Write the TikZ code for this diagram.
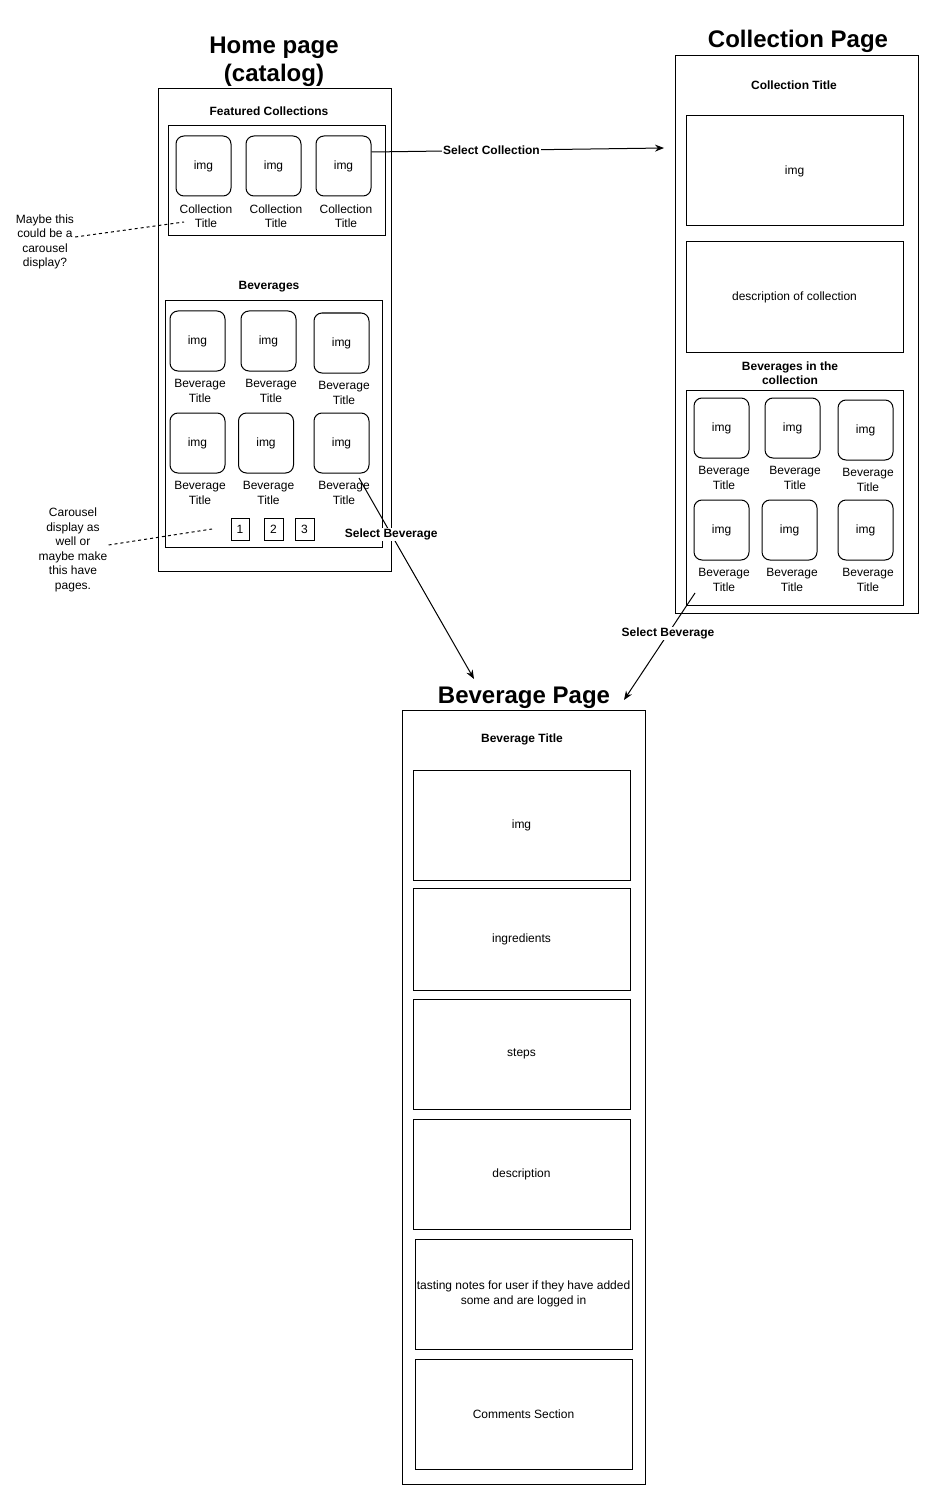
\documentclass[tikz,border=0pt]{standalone}
\usepackage{fontspec}
\setmainfont{Liberation Sans}
\usetikzlibrary{arrows.meta,positioning}

\begin{document}
\begin{tikzpicture}[x=1pt,y=-1pt,
  txt/.style={align=center, inner sep=1pt, font=\fontsize{12}{14.5}\selectfont},
  bold/.style={txt, font=\bfseries\fontsize{12}{14.5}\selectfont},
  heading/.style={align=center, inner sep=0pt, font=\bfseries\fontsize{24}{28}\selectfont},
  frame/.style={draw, line width=1pt, txt, inner sep=0pt},
  thumb/.style={frame, rounded corners=8pt, minimum width=55pt, minimum height=60pt},
  link/.style={line width=1pt, -{Stealth[length=9pt,width=7pt]}},
  note/.style={line width=1pt, dash pattern=on 3pt off 3pt}]
\useasboundingbox (0,0) rectangle (929,1495);

% home page
\node[heading] (hometitle) at (274,62) {Home page\\(catalog)};
\node[frame, minimum width=233pt, minimum height=482pt] (home) at (274.5,330) {};
\node[bold] (feattitle) at (269,111) {Featured Collections};
\node[frame, minimum width=217pt, minimum height=110pt] (feat) at (276.5,181) {};
\foreach \n/\x in {1/203.5,2/273.5,3/343.5}{
  \node[thumb] (c\n) at (\x,166) {img};
  \node[txt] (ct\n) at (\x+2.5,216) {Collection\\Title};
}
\node[bold] (bevstitle) at (269,287) {Beverages};
\node[frame, minimum width=217pt, minimum height=246pt] (bevs) at (273.5,424) {};
\foreach \n/\x/\y in {1/197.5/341,2/268.5/341,3/341.5/343,4/197.5/443,5/266/443,6/341.5/443}{
  \node[thumb] (b\n) at (\x,\y) {img};
  \node[txt] (bt\n) at (\x+2.5,\y+50) {Beverage\\Title};
}
\foreach \n/\x/\w in {1/240/18,2/273.5/19,3/304.5/19}
  \node[frame, minimum width=\w pt, minimum height=22pt] (p\n) at (\x,529) {\n};

% notes
\node[txt] (note1) at (45,242) {Maybe this\\could be a\\carousel\\display?};
\node[txt] (note2) at (73,550) {Carousel\\display as\\well or\\maybe make\\this have\\pages.};
\coordinate (n1tip) at (184,222);
\coordinate (n2tip) at (212,529);
\draw[note] ([yshift=5pt]note1.east) -- (n1tip);
\draw[note] ([yshift=5pt]note2.east) -- (n2tip);

% collection page
\node[heading] (coltitlebig) at (798,41) {Collection Page};
\node[frame, minimum width=243pt, minimum height=557pt] (colpage) at (796.5,334.5) {};
\node[bold] (coltitle) at (794,85) {Collection Title};
\node[frame, minimum width=217pt, minimum height=110pt] (colimg) at (794.5,171) {img};
\node[frame, minimum width=217pt, minimum height=110pt] (coldesc) at (794.5,297) {description of collection};
\node[bold] (colbevstitle) at (790,373) {Beverages in the\\collection};
\node[frame, minimum width=217pt, minimum height=215pt] (colbevs) at (794.5,497.5) {};
\foreach \n/\x/\y in {1/721.5/428,2/792.5/428,3/865.5/430,4/721.5/530,5/789.5/530,6/865.5/530}{
  \node[thumb] (cb\n) at (\x,\y) {img};
  \node[txt] (cbt\n) at (\x+2.5,\y+50) {Beverage\\Title};
}

% beverage page
\node[heading] (bevtitlebig) at (524,698) {Beverage Page};
\node[frame, minimum width=243pt, minimum height=774pt] (bevpage) at (523.5,1097) {};
\node[bold] (bevtitle) at (522,739) {Beverage Title};
\node[frame, minimum width=217pt, minimum height=110pt] (bimg) at (521.5,825) {img};
\node[frame, minimum width=217pt, minimum height=102pt] (bingr) at (521.5,939) {ingredients};
\node[frame, minimum width=217pt, minimum height=110pt] (bsteps) at (521.5,1054) {steps};
\node[frame, minimum width=217pt, minimum height=110pt] (bdesc) at (521.5,1174) {description};
\node[frame, minimum width=217pt, minimum height=110pt] (bnotes) at (523.5,1294) {tasting notes for user if they have added\\some and are logged in};
\node[frame, minimum width=217pt, minimum height=110pt] (bcomments) at (523.5,1414) {Comments Section};

% links
\coordinate (colin) at (664,148);
\coordinate (hbev) at (359,478);
\coordinate (bevin1) at (474,679);
\coordinate (cbev) at (695,593);
\coordinate (bevin2) at (624,700);
\draw[link] ([yshift=14pt]c3.east) -- node[bold, fill=white, pos=0.41] (selcol) {Select Collection} (colin);
\draw[link] (hbev) -- node[bold, fill=white, pos=0.28] (selbev1) {Select Beverage} (bevin1);
\draw[link] (cbev) -- node[bold, fill=white, pos=0.38] (selbev2) {Select Beverage} (bevin2);
\end{tikzpicture}
\end{document}
